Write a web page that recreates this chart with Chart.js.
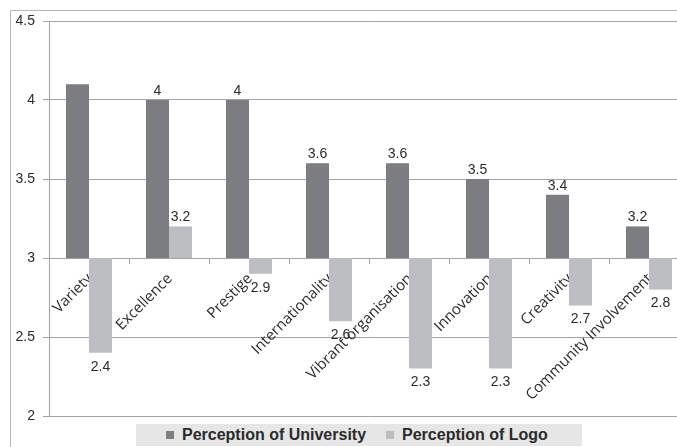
<!DOCTYPE html>
<html>
<head>
<meta charset="utf-8">
<script src="https://cdn.jsdelivr.net/npm/chart.js@4.4.1/dist/chart.umd.min.js"></script>
<style>
    html, body { margin: 0; padding: 0; background: #fff; overflow: hidden; }
    #wrap { position: relative; width: 677px; height: 447px; overflow: hidden; }
    #chart { position: absolute; left: 0; top: 0; }
    #legend {
        position: absolute; left: 136px; top: 424px; width: 446px; height: 22px;
        background: #e6e6e7; box-sizing: border-box; padding-left: 30px;
        display: flex; align-items: center;
        font: bold 16px "Liberation Sans", Arial, sans-serif; color: #2b2b2b;
    }
    #legend .item { display: flex; align-items: center; margin-right: 20px; white-space: nowrap; }
    #legend .sw { width: 8px; height: 8px; margin-right: 8px; }
</style>
</head>
<body>
<div id="wrap">
    <canvas id="chart" width="692" height="447"></canvas>
    <div id="legend"></div>
</div>
<script>
    // datos
    const categories = ["Variety", "Excellence", "Prestige", "Internationality",
        "Vibrant organisation", "Innovation", "Creativity", "Community Involvement"];
    const university = [4.1, 4, 4, 3.6, 3.6, 3.5, 3.4, 3.2];
    const logo = [2.4, 3.2, 2.9, 2.6, 2.3, 2.3, 2.7, 2.8];
    const showUniversityLabel = [false, true, true, true, true, true, true, true];
    const seriesNames = ["Perception of University", "Perception of Logo"];
    const baseline = 3;
    const yMin = 2, yMax = 4.5, yStep = 0.5;

    const COLORS = {
        dark: "#7c7d80",
        light: "#bdbec1",
        grid: "#a3a3a3",
        frame: "#b8b8b8",
        text: "#2b2b2b",
    };

    // marco gris del gráfico (izquierda y arriba)
    const frame = {
        id: "frame",
        beforeDraw(chart) {
            const ctx = chart.ctx;
            ctx.save();
            ctx.strokeStyle = COLORS.frame;
            ctx.lineWidth = 1;
            ctx.beginPath();
            ctx.moveTo(10.5, chart.height);
            ctx.lineTo(10.5, 10.5);
            ctx.lineTo(chart.width, 10.5);
            ctx.stroke();
            ctx.restore();
        },
    };

    // etiquetas de valor en el extremo de cada barra
    const valueLabels = {
        id: "valueLabels",
        afterDatasetsDraw(chart) {
            const ctx = chart.ctx;
            ctx.save();
            ctx.font = "14px 'Liberation Sans', Arial, sans-serif";
            ctx.fillStyle = COLORS.text;
            ctx.textAlign = "center";
            chart.data.datasets.forEach((ds, di) => {
                chart.getDatasetMeta(di).data.forEach((bar, i) => {
                    if (di === 0 && !showUniversityLabel[i]) return;
                    const v = ds.data[i][1];
                    const top = Math.min(bar.y, bar.base);
                    const bottom = Math.max(bar.y, bar.base);
                    if (v >= baseline) {
                        ctx.textBaseline = "bottom";
                        ctx.fillText(String(v), bar.x, top - 2);
                    } else {
                        ctx.textBaseline = "top";
                        ctx.fillText(String(v), bar.x, bottom + 7);
                    }
                });
            });
            ctx.restore();
        },
    };

    const chart = new Chart(document.getElementById("chart").getContext("2d"), {
        type: "bar",
        data: {
            labels: categories,
            datasets: [
                {
                    label: seriesNames[0],
                    data: university.map((v) => [baseline, v]),
                    backgroundColor: COLORS.dark,
                    categoryPercentage: 0.575,
                    barPercentage: 1,
                },
                {
                    label: seriesNames[1],
                    data: logo.map((v) => [baseline, v]),
                    backgroundColor: COLORS.light,
                    categoryPercentage: 0.575,
                    barPercentage: 1,
                },
            ],
        },
        options: {
            responsive: false,
            animation: false,
            events: [],
            layout: { padding: { left: 11, right: 3, top: 21, bottom: 31 } },
            plugins: {
                legend: { display: false },
                tooltip: { enabled: false },
            },
            scales: {
                x: {
                    position: { y: baseline },
                    offset: true,
                    z: 1,
                    grid: { drawOnChartArea: false, drawTicks: true, tickLength: 5, color: COLORS.grid, offset: true },
                    border: { color: COLORS.grid },
                    ticks: {
                        autoSkip: false,
                        minRotation: 45,
                        maxRotation: 45,
                        padding: 7,
                        labelOffset: 1,
                        color: COLORS.text,
                        font: { family: "'Open Sans', sans-serif", size: 15 },
                    },
                },
                y: {
                    min: yMin,
                    max: yMax,
                    afterFit: (s) => { s.width = 38; },
                    grid: { color: COLORS.grid, tickLength: 6 },
                    border: { color: COLORS.grid },
                    ticks: {
                        stepSize: yStep,
                        padding: 8,
                        color: COLORS.text,
                        font: { family: "'Liberation Sans', Arial, sans-serif", size: 14 },
                        callback: (v) => String(Math.round(v * 10) / 10),
                    },
                },
            },
        },
        plugins: [frame, valueLabels],
    });

    // leyenda HTML a partir de los datasets
    const legendEl = document.getElementById("legend");
    chart.data.datasets.forEach((ds) => {
        const item = document.createElement("span");
        item.className = "item";
        const sw = document.createElement("span");
        sw.className = "sw";
        sw.style.background = ds.backgroundColor;
        item.appendChild(sw);
        item.appendChild(document.createTextNode(ds.label));
        legendEl.appendChild(item);
    });
</script>
</body>
</html>
